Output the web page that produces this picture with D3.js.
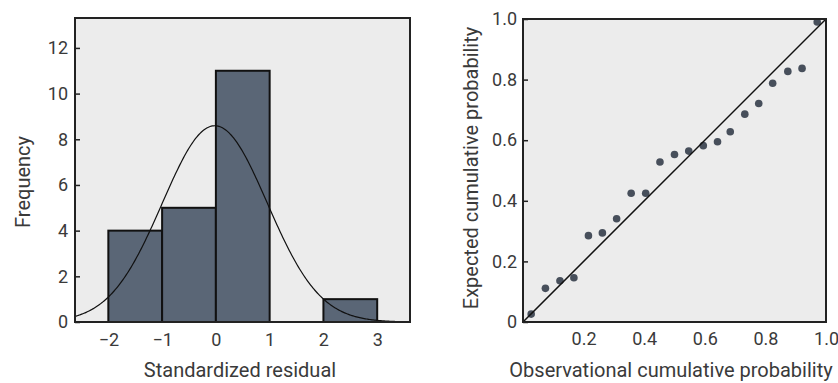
<!DOCTYPE html>
<html>
<head>
<meta charset="utf-8">
<script src="https://cdn.jsdelivr.net/npm/d3@7/dist/d3.min.js"></script>
<style>
  html, body { margin: 0; padding: 0; background: #ffffff; }
  svg { display: block; }
  text { font-family: Roboto, "Noto Sans", sans-serif; fill: #3a3a3a; }
</style>
</head>
<body>
<svg id="chart" width="838" height="383"></svg>
<script>
// ---------- Data ----------
// Histogram of standardized residuals
const binStarts = [-2, -1, 0, 2];
const binEnds   = [-1, 0, 1, 3];
const binCounts = [4, 5, 11, 1];
const histXTicks = [-2, -1, 0, 1, 2, 3];
const histYTicks = [0, 2, 4, 6, 8, 10, 12];
// Fitted normal curve parameters
const normalMean = -0.02;
const normalSD = 0.975;
const normalN = 21;
const binWidth = 1;

// P-P plot
const observedProb = [0.027, 0.074, 0.122, 0.168, 0.216, 0.262, 0.309, 0.357, 0.405, 0.452, 0.500, 0.547, 0.595, 0.642, 0.684, 0.732, 0.778, 0.824, 0.874, 0.921, 0.971];
const expectedProb = [0.026, 0.111, 0.136, 0.146, 0.285, 0.294, 0.341, 0.425, 0.425, 0.528, 0.553, 0.564, 0.582, 0.595, 0.628, 0.686, 0.721, 0.788, 0.827, 0.837, 0.990];
const ppXTicks = [0.2, 0.4, 0.6, 0.8, 1.0];
const ppYTicks = [0, 0.2, 0.4, 0.6, 0.8, 1.0];

// ---------- Drawing ----------
const svg = d3.select("#chart");
const bg = "#ececec";
const barFill = "#5a6676";
const dotFill = "#474f5b";

// ---- Left: histogram ----
const L = { x0: 75, x1: 410, y0: 18, y1: 322 };
const hx = d3.scaleLinear().domain([-2.62, 3.61]).range([L.x0, L.x1]);
const hy = d3.scaleLinear().domain([0, 13.31]).range([L.y1, L.y0]);

const gL = svg.append("g");
gL.append("rect").attr("x", L.x0).attr("y", L.y0)
  .attr("width", L.x1 - L.x0).attr("height", L.y1 - L.y0)
  .attr("fill", bg);

gL.append("defs").append("clipPath").attr("id", "clipL")
  .append("rect").attr("x", L.x0).attr("y", L.y0)
  .attr("width", L.x1 - L.x0).attr("height", L.y1 - L.y0);

gL.selectAll("rect.bar").data(binCounts).join("rect")
  .attr("class", "bar")
  .attr("x", (d, i) => hx(binStarts[i]))
  .attr("width", (d, i) => hx(binEnds[i]) - hx(binStarts[i]))
  .attr("y", d => hy(d))
  .attr("height", d => hy(0) - hy(d))
  .attr("fill", barFill)
  .attr("stroke", "#111")
  .attr("stroke-width", 2);

const normPts = d3.range(0, 301).map(i => {
  const x = -2.62 + (3.61 + 2.62) * i / 300;
  const z = (x - normalMean) / normalSD;
  return [x, normalN * binWidth / (normalSD * Math.sqrt(2 * Math.PI)) * Math.exp(-0.5 * z * z)];
});
gL.append("path").datum(normPts)
  .attr("clip-path", "url(#clipL)")
  .attr("d", d3.line().x(d => hx(d[0])).y(d => hy(d[1])))
  .attr("fill", "none").attr("stroke", "#111").attr("stroke-width", 1.2);

gL.append("rect").attr("x", L.x0).attr("y", L.y0)
  .attr("width", L.x1 - L.x0).attr("height", L.y1 - L.y0)
  .attr("fill", "none").attr("stroke", "#222").attr("stroke-width", 2);

gL.append("g").attr("transform", `translate(${L.x0},0)`)
  .call(d3.axisLeft(hy).tickValues(histYTicks).tickSizeInner(-5).tickSizeOuter(0).tickPadding(7));
gL.append("g").attr("transform", `translate(0,${L.y1})`)
  .call(d3.axisBottom(hx).tickValues(histXTicks).tickSizeInner(0).tickSizeOuter(0).tickPadding(11)
    .tickFormat(d => d < 0 ? "\u2212" + Math.abs(d) : String(d)));

// ---- Right: P-P plot ----
const R = { x0: 523, x1: 826, y0: 19, y1: 322 };
const px = d3.scaleLinear().domain([0, 1]).range([R.x0, R.x1]);
const py = d3.scaleLinear().domain([0, 1]).range([R.y1, R.y0]);

const gR = svg.append("g");
gR.append("rect").attr("x", R.x0).attr("y", R.y0)
  .attr("width", R.x1 - R.x0).attr("height", R.y1 - R.y0)
  .attr("fill", bg);

gR.selectAll("circle").data(observedProb).join("circle")
  .attr("cx", d => px(d))
  .attr("cy", (d, i) => py(expectedProb[i]))
  .attr("r", 3.8)
  .attr("fill", dotFill);

gR.append("line")
  .attr("x1", px(0)).attr("y1", py(0)).attr("x2", px(1)).attr("y2", py(1))
  .attr("stroke", "#111").attr("stroke-width", 1.5);

gR.append("rect").attr("x", R.x0).attr("y", R.y0)
  .attr("width", R.x1 - R.x0).attr("height", R.y1 - R.y0)
  .attr("fill", "none").attr("stroke", "#222").attr("stroke-width", 2);

gR.append("g").attr("transform", `translate(${R.x0},0)`)
  .call(d3.axisLeft(py).tickValues(ppYTicks).tickSizeInner(-5).tickSizeOuter(0).tickPadding(6)
    .tickFormat(d => d === 0 ? "0" : d3.format(".1f")(d)));
gR.append("g").attr("transform", `translate(0,${R.y1})`)
  .call(d3.axisBottom(px).tickValues(ppXTicks).tickSizeInner(0).tickSizeOuter(0).tickPadding(10)
    .tickFormat(d3.format(".1f")));

// axis styling
svg.selectAll(".domain").remove();
svg.selectAll(".tick line").attr("stroke", "#222").attr("stroke-width", 1.5);
svg.selectAll(".tick text").style("font-size", "18px").attr("fill", "#3a3a3a")
  .style("font-family", "Roboto, 'Noto Sans', sans-serif");

// axis titles
svg.append("text").attr("x", 240).attr("y", 377).attr("text-anchor", "middle")
  .style("font-size", "20px").text("Standardized residual");
svg.append("text").attr("transform", "translate(30,182) rotate(-90)").attr("text-anchor", "middle")
  .style("font-size", "20px").text("Frequency");
svg.append("text").attr("x", 671).attr("y", 377).attr("text-anchor", "middle")
  .style("font-size", "20px").text("Observational cumulative probability");
svg.append("text").attr("transform", "translate(478,168) rotate(-90)").attr("text-anchor", "middle")
  .style("font-size", "20px").text("Expected cumulative probability");
</script>
</body>
</html>
